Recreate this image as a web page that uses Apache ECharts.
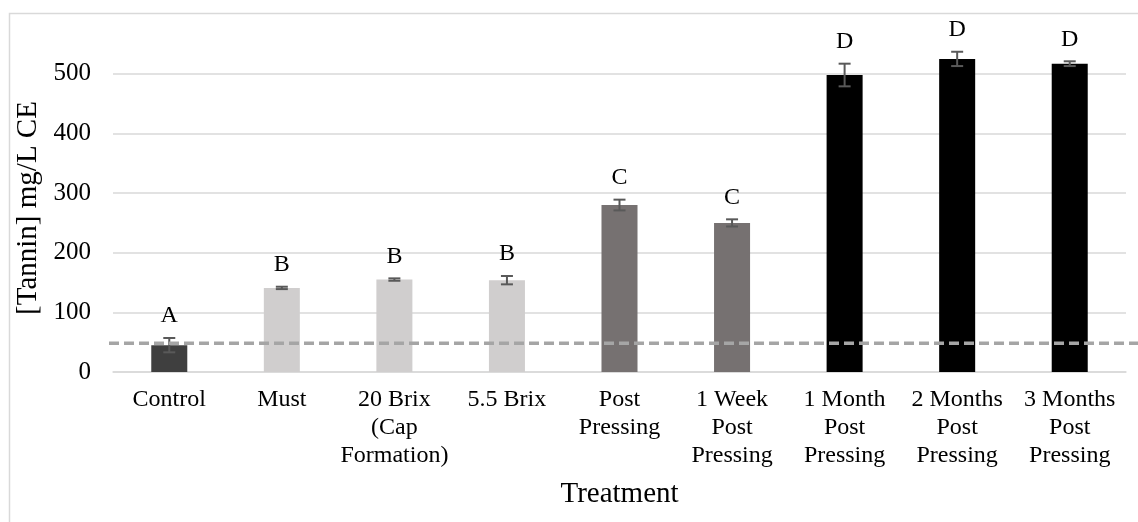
<!DOCTYPE html>
<html>
<head>
<meta charset="utf-8">
<script src="https://cdn.jsdelivr.net/npm/echarts@6/dist/echarts.min.js"></script>
<style>
html,body{margin:0;padding:0;background:#fff;}
#chart{width:1138px;height:522px;}
</style>
</head>
<body>
<div id="chart"></div>
<script>
// ---- data ----
const categories = ['Control', 'Must', '20 Brix\n(Cap\nFormation)', '5.5 Brix', 'Post\nPressing',
  '1 Week\nPost\nPressing', '1 Month\nPost\nPressing', '2 Months\nPost\nPressing', '3 Months\nPost\nPressing'];
const tanninMeans = [45, 141, 155, 154, 280, 250, 498, 525, 517];
const tanninErrors = [12, 2, 2, 7, 9, 6, 19, 12, 4];
const groupLetters = ['A', 'B', 'B', 'B', 'C', 'C', 'D', 'D', 'D'];
const stageIndex = [0, 1, 1, 1, 2, 2, 3, 3, 3];
const detectionLimit = 48;
const yMin = 0, yMax = 550, yInterval = 100;

// ---- styles ----
const stageColors = ['#3f3f3f', '#d0cece', '#767171', '#000000'];
const FONT = '"Liberation Serif", "Times New Roman", serif';

const chart = echarts.init(document.getElementById('chart'));

const option = {
  animation: false,
  backgroundColor: '#ffffff',
  grid: { left: 113, right: 12, top: 44, bottom: 150 },
  xAxis: {
    type: 'category',
    data: categories,
    name: 'Treatment',
    nameLocation: 'middle',
    nameGap: 108,
    nameTextStyle: { fontFamily: FONT, fontSize: 29, color: '#000' },
    axisLine: { show: true, lineStyle: { color: '#d9d9d9', width: 1.5 } },
    axisTick: { show: false },
    axisLabel: { interval: 0, fontFamily: FONT, fontSize: 24, lineHeight: 28, color: '#000', margin: 14 }
  },
  yAxis: {
    type: 'value',
    min: yMin, max: yMax, interval: yInterval,
    name: '[Tannin] mg/L CE',
    nameLocation: 'middle',
    nameGap: 58,
    nameTextStyle: { fontFamily: FONT, fontSize: 29, color: '#000' },
    axisLine: { show: false },
    axisTick: { show: false },
    axisLabel: {
      fontFamily: FONT, fontSize: 25, color: '#000', margin: 22,
      showMaxLabel: false,
      formatter: v => (v % yInterval === 0 ? String(v) : '')
    },
    splitLine: { show: true, showMaxLine: false, lineStyle: { color: '#d9d9d9', width: 1.5 } }
  },
  series: [
    {
      type: 'bar',
      barWidth: '32%',
      data: tanninMeans.map((v, i) => ({ value: v, itemStyle: { color: stageColors[stageIndex[i]] } })),
      z: 2
    },
    {
      type: 'custom',
      z: 3,
      data: tanninMeans.map((m, i) => [i, m - tanninErrors[i], m + tanninErrors[i]]),
      renderItem: function (params, api) {
        const i = params.dataIndex;
        const lo = api.coord([api.value(0), api.value(1)]);
        const hi = api.coord([api.value(0), api.value(2)]);
        const half = 6;
        const st = { stroke: '#595959', lineWidth: 2 };
        return {
          type: 'group',
          children: [
            { type: 'line', shape: { x1: hi[0], y1: hi[1], x2: lo[0], y2: lo[1] }, style: st },
            { type: 'line', shape: { x1: hi[0] - half, y1: hi[1], x2: hi[0] + half, y2: hi[1] }, style: st },
            { type: 'line', shape: { x1: lo[0] - half, y1: lo[1], x2: lo[0] + half, y2: lo[1] }, style: st },
            {
              type: 'text', x: hi[0], y: hi[1] - 22,
              style: { text: groupLetters[i], fill: '#000', font: '24px ' + FONT, align: 'center', verticalAlign: 'middle' }
            }
          ]
        };
      }
    }
  ]
};
chart.setOption(option);

// frame and detection-limit dashed line (y from the axis scale)
const yDL = chart.convertToPixel({ yAxisIndex: 0 }, detectionLimit);
chart.setOption({
  graphic: [
    { type: 'rect', left: 7, top: 11, shape: { width: 1300, height: 700 }, style: { fill: 'none', stroke: '#d9d9d9', lineWidth: 1.5 }, silent: true, z: 0 },
    { type: 'line', shape: { x1: 109, y1: yDL, x2: 1138, y2: yDL }, style: { stroke: '#a5a5a5', lineWidth: 3.5, lineDash: [10, 5] }, silent: true, z: 10 }
  ]
});
</script>
</body>
</html>
